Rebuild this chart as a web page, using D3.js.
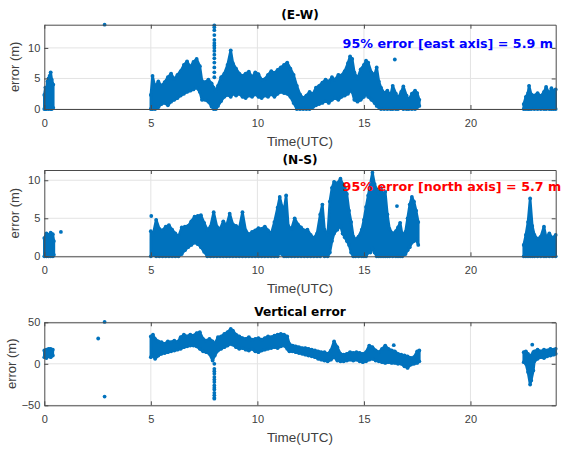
<!DOCTYPE html>
<html><head><meta charset="utf-8">
<script src="https://cdn.jsdelivr.net/npm/d3@7"></script>
<style>body{margin:0;background:#fff}</style>
</head><body><svg id="c" width="566" height="454"></svg>
<script>
// ---------- tick labels / texts ----------
const xTicks = [0, 5, 10, 15, 20];
const yTicksEW = [0, 5, 10];
const yTicksNS = [0, 5, 10];
const yTicksV = [-50, 0, 50];
const titles = ["(E-W)", "(N-S)", "Vertical error"];
const xLabel = "Time(UTC)";
const yLabel = "error (m)";
const ewNote = "95% error [east axis] = 5.9 m";
const nsNote = "95% error [north axis] = 5.7 m";

// ---------- data: dense clouds as [time, low, high] envelopes ----------
const ewBands = [
  [[0.0,0,2.3],[0.05,0,3.5],[0.1,0,3.0],[0.15,0.2,4.5],[0.2,0,5.0],[0.25,0.3,5.4],[0.3,0,6.0],[0.35,0,4.8],[0.42,0.2,4.0]],
  [[5.0,0,2.3],[5.08,0,5.4],[5.2,0,3.6],[5.35,0.3,4.5],[5.5,0.8,3.8],[5.65,1.0,4.4],[5.8,0.6,5.2],[5.95,1.2,5.8],
   [6.1,1.5,4.9],[6.25,1.8,5.6],[6.4,2.2,6.2],[6.55,2.5,7.2],[6.7,2.8,7.8],[6.85,3.0,6.9],[7.0,3.2,7.7],[7.15,3.5,8.2],
   [7.3,2.8,7.0],[7.4,1.5,4.6],[7.55,1.5,4.4],[7.7,1.2,4.8],[7.85,0.4,4.2],[7.95,0,3.5],[8.05,0,2.9],[8.15,0.5,3.8],
   [8.3,1.3,5.2],[8.45,2.0,5.8],[8.6,2.3,7.2],[8.75,2.0,9.6],[8.85,2.5,7.5],[9.0,2.2,6.6],[9.15,2.5,5.8],[9.3,2.0,5.4],
   [9.45,1.8,5.8],[9.6,2.2,6.1],[9.75,2.0,5.2],[9.9,2.4,6.0],[10.05,2.0,5.7],[10.2,1.8,4.8],[10.35,2.2,4.9],[10.5,2.0,5.6],
   [10.65,2.4,6.2],[10.8,2.0,5.9],[10.95,2.5,6.4],[11.1,2.8,6.8],[11.25,2.6,7.2],[11.4,2.5,7.6],[11.55,2.0,6.6],[11.7,1.0,5.6],
   [11.85,0,3.8],[12.0,0,2.4],[12.15,0,1.8],[12.3,0,2.2],[12.45,0,2.8],[12.6,0.3,2.4],[12.75,0.6,3.5],[12.9,0.8,3.8],
   [13.05,1.0,4.3],[13.2,1.3,4.8],[13.35,1.0,4.5],[13.5,1.5,5.2],[13.65,1.8,4.8],[13.8,1.5,5.6],[13.95,2.0,5.5],[14.1,2.2,6.2],
   [14.25,2.5,7.5],[14.35,3.0,8.6],[14.45,2.8,8.2],[14.55,1.5,6.0],[14.7,1.2,5.0],[14.85,1.5,6.5],[15.0,2.0,7.2],[15.1,2.5,7.9],
   [15.2,2.0,7.6],[15.35,1.5,6.0],[15.5,1.0,5.6],[15.6,0.5,6.8],[15.7,0.3,4.5],[15.8,0,3.5],[15.95,0,2.6],[16.1,0,3.0],
   [16.25,0,2.2],[16.35,0,3.8],[16.5,0,2.5],[16.6,0,1.8],[16.75,0.2,2.8],[16.85,0,3.7],[17.0,0,2.2],[17.1,0,1.5],
   [17.25,0,2.5],[17.4,0,3.0],[17.5,0.3,2.6],[17.6,0.5,1.5]],
  [[22.5,0,0.8],[22.6,0,2.0],[22.7,0,2.6],[22.75,0,3.8],[22.85,0,2.4],[23.0,0,2.2],[23.15,0,2.6],[23.3,0,2.1],
   [23.45,0,2.8],[23.55,0,3.6],[23.7,0,2.5],[23.8,0,3.4],[23.9,0,2.9],[24.0,0,3.2]]
];
const ewPoints = [[2.83,13.8],[16.45,8.1],
  [7.98,5.2],[7.98,6.0],[7.98,6.8],[7.98,7.6],[7.98,8.3],[7.98,8.9],[7.98,9.5],[7.98,10.0],[7.98,10.4],
  [7.98,10.8],[7.98,11.3],[7.98,12.1],[7.98,12.9],[7.98,13.4],[7.98,13.7]];

const nsBands = [
  [[0.0,0,2.4],[0.1,0,3.0],[0.2,0,2.8],[0.3,0,3.1],[0.4,0,2.9],[0.45,0.2,2.0]],
  [[5.0,0,3.3],[5.1,0.2,2.8],[5.25,0,4.8],[5.4,0,3.6],[5.55,0,3.4],[5.7,0,3.9],[5.85,0,4.1],[6.0,0,3.5],
   [6.15,0,3.0],[6.3,0,2.6],[6.45,0.3,3.8],[6.6,0.8,3.9],[6.75,1.2,4.0],[6.9,1.5,4.6],[7.05,1.8,5.2],[7.2,1.6,5.3],
   [7.35,1.2,5.4],[7.5,0.6,4.4],[7.65,0,3.5],[7.8,0,3.9],[7.95,0,5.8],[8.1,0,3.9],[8.25,0,3.6],[8.4,0,4.6],
   [8.55,0,4.0],[8.7,0,5.6],[8.85,0,4.2],[9.0,0,4.0],[9.15,0,3.7],[9.3,0,5.8],[9.45,0,3.4],[9.6,0,2.9],
   [9.75,0,3.2],[9.9,0,3.4],[10.05,0,3.7],[10.2,0,3.6],[10.35,0,3.9],[10.5,0,3.4],[10.65,0,3.0],[10.8,0,4.5],
   [10.95,0,6.4],[11.05,0.5,7.8],[11.15,0.3,6.6],[11.25,0,6.0],[11.35,0,8.0],[11.45,0,4.0],[11.6,0,3.6],[11.75,0,5.0],
   [11.9,0,4.2],[12.05,0,3.8],[12.2,0,3.4],[12.35,0,3.5],[12.5,0,2.8],[12.65,0,2.4],[12.8,0,3.0],[12.95,0,5.5],
   [13.05,0.3,6.8],[13.15,0,3.5],[13.3,0,2.8],[13.4,0.5,7.2],[13.5,2.0,9.0],[13.6,3.0,9.8],[13.75,3.5,9.6],[13.9,4.0,10.2],
   [14.0,3.0,9.5],[14.1,2.5,9.0],[14.2,2.0,8.2],[14.3,1.5,6.0],[14.4,0.5,4.5],[14.5,0,2.6],[14.6,0,2.2],[14.75,0,2.6],
   [14.9,0,3.5],[15.0,0,4.8],[15.1,0,6.5],[15.2,0.5,8.0],[15.3,0.5,9.5],[15.4,1.0,11.0],[15.5,0.5,9.5],[15.6,0,8.8],
   [15.7,0,8.2],[15.8,0,9.0],[15.9,0,8.0],[16.0,0,8.5],[16.1,0,5.5],[16.2,0,3.6],[16.35,0,3.0],[16.5,0,3.3],
   [16.6,0,3.8],[16.7,0,4.4],[16.8,0,2.8],[16.95,0.3,3.2],[17.05,0.8,5.0],[17.15,1.2,6.8],[17.25,1.8,7.8],[17.35,2.0,7.2],
   [17.45,2.2,6.0],[17.55,1.5,4.5]],
  [[22.5,0,1.5],[22.6,0,2.8],[22.7,0,4.5],[22.8,0,7.6],[22.9,0,4.0],[23.0,0,2.8],[23.15,0,2.3],[23.3,0,2.6],
   [23.45,0,3.9],[23.55,0,2.5],[23.7,0,3.0],[23.85,0,2.4],[24.0,0,2.8]]
];
const nsPoints = [[0.78,3.2],[16.55,6.6],[5.02,5.3]];

const vBands = [
  [[0.0,8,16],[0.1,7,17],[0.2,9,18],[0.3,8,18],[0.4,10,17]],
  [[5.0,8,33],[5.1,10,35],[5.2,6,30],[5.35,10,27],[5.5,12,26],[5.65,13,24],[5.8,14,27],[5.95,15,26],
   [6.1,16,28],[6.25,17,26],[6.4,18,32],[6.55,20,35],[6.7,21,33],[6.85,22,35],[7.0,22,34],[7.15,21,37],
   [7.3,18,38],[7.45,15,30],[7.6,14,28],[7.75,12,30],[7.9,4,27],[8.0,10,24],[8.15,16,32],[8.3,18,33],
   [8.45,20,36],[8.6,22,38],[8.75,24,42],[8.85,23,40],[9.0,20,35],[9.15,18,33],[9.3,19,31],[9.45,17,30],
   [9.6,16,32],[9.75,18,29],[9.9,15,30],[10.05,14,31],[10.2,16,29],[10.35,17,31],[10.5,18,33],[10.65,19,32],
   [10.8,20,34],[10.95,19,35],[11.1,21,36],[11.25,22,35],[11.4,18,33],[11.5,15,24],[11.65,15,22],[11.8,14,21],
   [11.95,13,20],[12.1,12,19],[12.25,11,19],[12.4,10,18],[12.55,9,17],[12.7,8,16],[12.85,6,15],[13.0,5,14],
   [13.15,4,14],[13.3,3,12],[13.45,5,16],[13.6,8,27],[13.75,4,20],[13.9,3,12],[14.05,3,11],[14.2,4,12],
   [14.35,5,14],[14.5,4,13],[14.65,5,14],[14.8,3,13],[14.95,2,12],[15.1,3,14],[15.25,5,22],[15.4,6,20],
   [15.55,4,16],[15.7,3,14],[15.85,2,18],[16.0,1,22],[16.15,2,18],[16.3,1,16],[16.45,1,15],[16.6,0,12],
   [16.75,0,11],[16.9,-3,10],[17.05,-5,9],[17.2,-1,7],[17.35,0,8],[17.5,1,15],[17.6,3,16]],
  [[22.5,2,14],[22.6,0,15],[22.7,-10,12],[22.8,-25,8],[22.85,-20,10],[22.95,-8,14],[23.0,3,15],[23.15,6,17],
   [23.3,8,15],[23.45,7,17],[23.6,9,16],[23.75,10,18],[23.9,11,17],[24.0,12,18]]
];
const vPoints = [[2.53,30.5],[2.83,50.5],[2.83,-39.5],[16.4,22.5],[22.9,23],
  [7.98,0],[7.98,-6],[7.98,-9],[7.98,-12],[7.98,-16],[7.98,-19],[7.98,-22],[7.98,-26],[7.98,-29],
  [7.98,-31],[7.98,-35],[7.98,-38],[7.98,-41],[7.98,-42]];

// ---------- drawing ----------
const C = "#0072BD";
const svg = d3.select("#c");
const tickFont = "'Liberation Sans', Arial, Helvetica, sans-serif";
const boldFont = "'DejaVu Sans', sans-serif";

const panels = [
  {top:24.7, bottom:109, domain:[0,13.8], yTicks:yTicksEW, bands:ewBands, points:ewPoints, title:titles[0], ylx:19,
   note:{text:ewNote, color:"#0000FF", t:14.0, v:10.0}},
  {top:170, bottom:256.3, domain:[0,11.35], yTicks:yTicksNS, bands:nsBands, points:nsPoints, title:titles[1], ylx:19,
   note:{text:nsNote, color:"#FF0000", t:14.0, v:8.53}},
  {top:322.3, bottom:405.3, domain:[-50,50], yTicks:yTicksV, bands:vBands, points:vPoints, title:titles[2], ylx:15.5}
];

panels.forEach(p => {
  const x = d3.scaleLinear().domain([0,24]).range([44.3,555.7]);
  const y = d3.scaleLinear().domain(p.domain).range([p.bottom,p.top]);
  const g = svg.append("g");

  // grid
  g.selectAll(".gx").data(xTicks.filter(t=>t>0)).join("line")
    .attr("x1",d=>x(d)).attr("x2",d=>x(d)).attr("y1",p.top).attr("y2",p.bottom)
    .attr("stroke","#e3e3e3").attr("stroke-width",1);
  g.selectAll(".gy").data(p.yTicks).join("line")
    .attr("x1",x(0)).attr("x2",x(24)).attr("y1",d=>y(d)).attr("y2",d=>y(d))
    .attr("stroke","#e3e3e3").attr("stroke-width",1);

  // clouds
  const area = d3.area().x(d=>x(d[0])).y0(d=>y(d[1])).y1(d=>y(d[2]));
  p.bands.forEach(b => {
    g.append("path").attr("d",area(b)).attr("fill",C).attr("stroke",C)
      .attr("stroke-width",2.6).attr("stroke-linejoin","round");
    g.selectAll(null).data(b.flatMap(d=>[[d[0],d[1]],[d[0],d[2]]])).join("circle")
      .attr("cx",d=>x(d[0])).attr("cy",d=>y(d[1])).attr("r",1.9).attr("fill",C);
  });
  g.selectAll(null).data(p.points).join("circle")
    .attr("cx",d=>x(d[0])).attr("cy",d=>y(d[1])).attr("r",1.9).attr("fill",C);

  // axes
  const styleAxis = a => {
    a.selectAll("path,line").attr("stroke","#4a4a4a");
    a.selectAll("text").attr("fill","#404040").style("font-family",tickFont).style("font-size","11px");
  };
  g.append("g").attr("transform",`translate(0,${p.bottom})`)
    .call(d3.axisBottom(x).tickValues(xTicks).tickSizeInner(-4).tickSizeOuter(0).tickPadding(10)).call(styleAxis);
  g.append("g").attr("transform",`translate(0,${p.top})`)
    .call(d3.axisTop(x).tickValues(xTicks).tickSizeInner(-4).tickSizeOuter(0).tickFormat("")).call(styleAxis);
  g.append("g").attr("transform",`translate(${x(0)},0)`)
    .call(d3.axisLeft(y).tickValues(p.yTicks).tickSizeInner(-4).tickSizeOuter(0).tickPadding(4)).call(styleAxis);
  g.append("g").attr("transform",`translate(${x(24)},0)`)
    .call(d3.axisRight(y).tickValues(p.yTicks).tickSizeInner(-4).tickSizeOuter(0).tickFormat("")).call(styleAxis);

  // labels
  g.append("text").attr("x",(x(0)+x(24))/2).attr("y",p.bottom+36.5).attr("text-anchor","middle")
    .attr("fill","#404040").style("font-family",tickFont).style("font-size","13.5px").text(xLabel);
  g.append("text").attr("transform",`translate(${p.ylx},${(p.top+p.bottom)/2}) rotate(-90)`).attr("text-anchor","middle")
    .attr("fill","#404040").style("font-family",tickFont).style("font-size","13px").text(yLabel);
  g.append("text").attr("x",(x(0)+x(24))/2).attr("y",p.top-6).attr("text-anchor","middle")
    .attr("fill","#000").style("font-family",boldFont).style("font-weight","bold").style("font-size","12.2px").text(p.title);

  if (p.note) {
    g.append("text").attr("x",x(p.note.t)).attr("y",y(p.note.v)).attr("fill",p.note.color)
      .style("font-family",boldFont).style("font-weight","bold").style("font-size","12.7px").text(p.note.text);
  }
});
</script>
</body></html>
